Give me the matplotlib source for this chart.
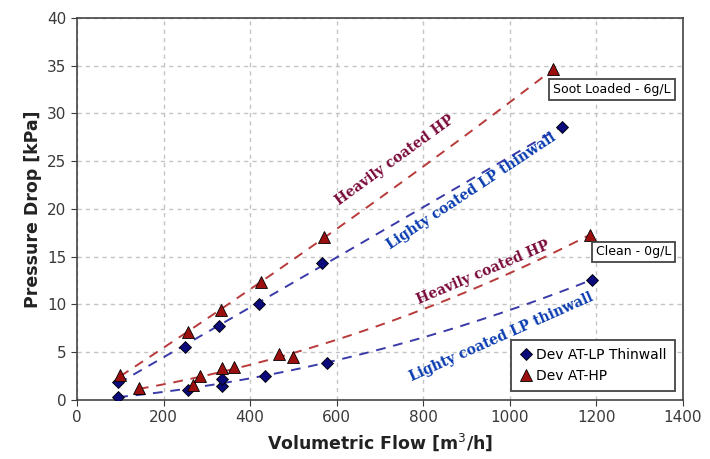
import numpy as np
import matplotlib
matplotlib.use("Agg")
import matplotlib.pyplot as plt

# data
soot_hp_x = [100, 257, 333, 426, 570, 1100]
soot_hp_y = [2.6, 7.1, 9.4, 12.4, 17.1, 34.6]
soot_lp_x = [95, 249, 328, 421, 565, 1120]
soot_lp_y = [1.9, 5.6, 7.7, 10.1, 14.3, 28.6]
clean_hp_x = [143, 269, 284, 336, 362, 467, 498, 1185]
clean_hp_y = [1.3, 1.6, 2.5, 3.3, 3.5, 4.8, 4.5, 17.3]
clean_lp_x = [95, 257, 335, 335, 434, 577, 1190]
clean_lp_y = [0.3, 1.1, 1.5, 2.2, 2.5, 3.9, 12.6]

hp_col = "#9b0f0f"
lp_col = "#0a0a7a"
hp_line = "#b83a3a"
lp_line = "#3a3aa8"
hp_text = "#7a0a3a"
lp_text = "#0a3cb0"

fig = plt.figure(figsize=(7.1, 4.59), dpi=100)
ax = fig.add_axes([0.1085, 0.1285, 0.8535, 0.8325])

# trend lines (2nd order fit like excel)
def trend(xs, ys, col):
    c = np.polyfit(xs, ys, 2)
    xx = np.linspace(min(xs), max(xs), 200)
    ax.plot(xx, np.polyval(c, xx), color=col, lw=1.4, dashes=(5, 4), zorder=2)

trend(soot_hp_x, soot_hp_y, hp_line)
trend(soot_lp_x, soot_lp_y, lp_line)
trend(clean_hp_x, clean_hp_y, hp_line)
trend(clean_lp_x, clean_lp_y, lp_line)

ax.plot(soot_lp_x + clean_lp_x, soot_lp_y + clean_lp_y, ls="none", marker="D", ms=6.5,
        mfc=lp_col, mec="black", mew=0.6, zorder=3, label="Dev AT-LP Thinwall")
ax.plot(soot_hp_x + clean_hp_x, soot_hp_y + clean_hp_y, ls="none", marker="^", ms=8,
        mfc=hp_col, mec="black", mew=0.6, zorder=3, label="Dev AT-HP")

ax.set_xlim(0, 1400)
ax.set_ylim(0, 40)
ax.set_xticks(range(0, 1401, 200))
ax.set_yticks(range(0, 41, 5))
ax.grid(True, color="#c4c4c4", ls=(0, (3, 3)), lw=1)
ax.tick_params(labelsize=11, colors="#3a3a3a", length=4)
for s in ax.spines.values():
    s.set_color("#444444")
    s.set_linewidth(1.2)

ax.set_xlabel("Volumetric Flow [m$^3$/h]", fontsize=12.5, fontweight="bold", color="#222222")
ax.set_ylabel("Pressure Drop [kPa]", fontsize=12.5, fontweight="bold", color="#222222")

tfont = dict(family="DejaVu Serif", fontsize=10, fontweight="bold", ha="center", va="center",
             rotation_mode="anchor")
ax.text(734, 25.1, "Heavily coated HP", color=hp_text, rotation=36, **tfont)
ax.text(912, 21.9, "Lighty coated LP thinwall", color=lp_text, rotation=33.5, **tfont)
ax.text(938, 13.3, "Heavily coated HP", color=hp_text, rotation=23, **tfont)
ax.text(981, 6.6, "Lighty coated LP thinwall", color=lp_text, rotation=24, **tfont)

box = dict(boxstyle="square,pad=0.3", fc="white", ec="#444444", lw=1.3)
ax.text(1236, 32.5, "Soot Loaded - 6g/L", fontsize=9, ha="center", va="center", bbox=box)
ax.text(1286, 15.5, "Clean - 0g/L", fontsize=9, ha="center", va="center", bbox=box)

leg = ax.legend(loc="lower right", fontsize=10, fancybox=False, framealpha=1,
                edgecolor="#444444", handletextpad=0.2, handlelength=1, borderpad=0.6,
                bbox_to_anchor=(0.998, 0.005))
leg.get_frame().set_linewidth(1.3)

fig.savefig("out.png", dpi=100)
